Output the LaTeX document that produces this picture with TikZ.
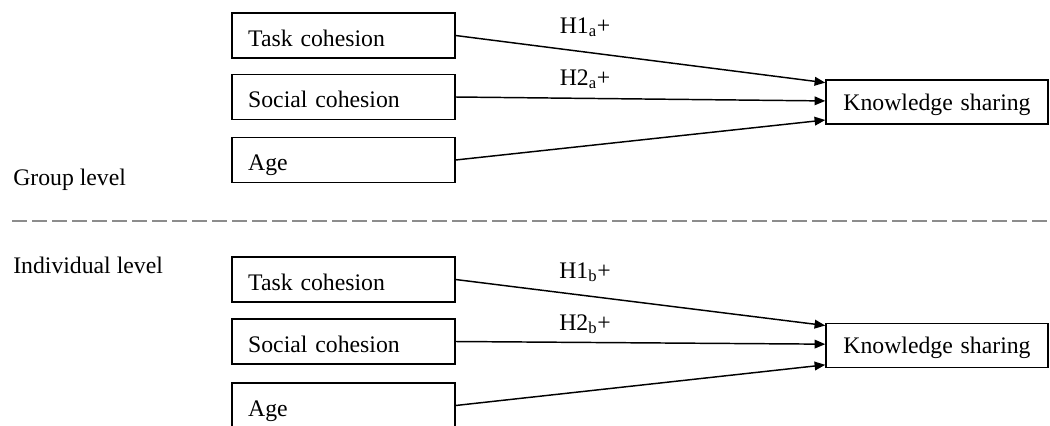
\documentclass[tikz,border=0pt]{standalone}
\usepackage{fontspec}
\setmainfont{Liberation Serif}
\usetikzlibrary{arrows.meta}
\tikzset{
	varbox/.style={draw=black, line width=1.1pt, text width=143pt, inner xsep=12pt,
		align=left, minimum height=33.75pt, text height=16pt, text depth=0pt},
	outbox/.style={draw=black, line width=1.1pt, text width=142.5pt, inner xsep=12pt,
		align=center, minimum height=33pt, text height=12pt, text depth=0pt},
	link/.style={draw=black, line width=1.1pt, -{Triangle[length=8pt,width=6.5pt]}},
	hyp/.style={anchor=base, inner sep=0pt},
	levellabel/.style={anchor=base west, inner sep=0pt},
	levelsep/.style={draw=black!45, line width=1.5pt, dash pattern=on 11pt off 4pt},
}

\begin{document}
\begin{tikzpicture}[x=0.75pt, y=-0.75pt, font=\fontsize{17.8}{21}\selectfont]
		\useasboundingbox (0,0) rectangle (1050,425);
		% Group level
		\node[varbox] (gtask) at (343.5,35.5) {Task cohesion};
		\node[varbox] (gsoc) at (343.5,97) {Social cohesion};
		\node[varbox] (gage) at (343.5,160) {Age};
		\node[outbox] (gks) at (937,102) {Knowledge sharing};
		\draw[link] (gtask.east) -- ([yshift=14.5pt]gks.west);
		\draw[link] (gsoc.east) -- ([yshift=0.8pt]gks.west);
		\draw[link] (gage.east) -- ([yshift=-13.5pt]gks.west);
		\node[hyp] (gh1) at (585,33) {H1\textsubscript{a}+};
		\node[hyp] (gh2) at (585,85) {H2\textsubscript{a}+};
		\node[levellabel] (glevel) at (13,185) {Group level};
		% Separator
		\coordinate (sepL) at (12,221);
		\coordinate (sepR) at (1050,221);
		\draw[levelsep] (sepL) -- (sepR);
		% Individual level
		\node[levellabel] (ilevel) at (13,273) {Individual level};
		\node[varbox] (itask) at (343.5,279.5) {Task cohesion};
		\node[varbox] (isoc) at (343.5,341.5) {Social cohesion};
		\node[varbox] (iage) at (343.5,405.5) {Age};
		\node[outbox] (iks) at (937,345.5) {Knowledge sharing};
		\draw[link] (itask.east) -- ([yshift=15pt]iks.west);
		\draw[link] (isoc.east) -- ([yshift=1pt]iks.west);
		\draw[link] (iage.east) -- ([yshift=-14.5pt]iks.west);
		\node[hyp] (ih1) at (585,278) {H1\textsubscript{b}+};
		\node[hyp] (ih2) at (585,330) {H2\textsubscript{b}+};
\end{tikzpicture}
\end{document}
